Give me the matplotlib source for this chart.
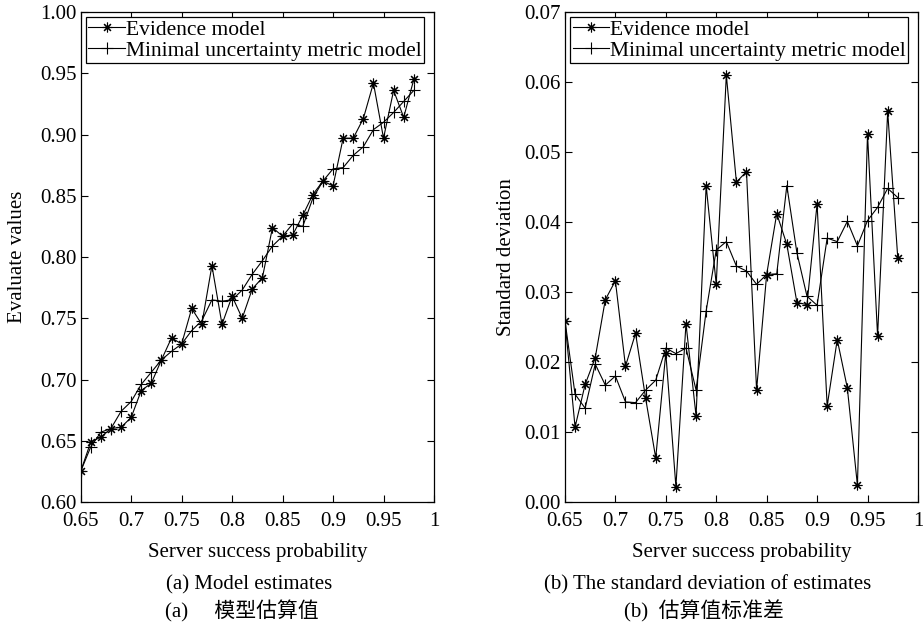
import numpy as np
import matplotlib.pyplot as plt

plt.rcParams['font.family'] = ['Liberation Serif', 'Noto Sans CJK SC', 'DejaVu Sans']

x = np.round(np.arange(0.65, 0.985, 0.01), 2)

# (a) model estimates
est_evidence = [0.625, 0.649, 0.653, 0.660, 0.661, 0.669, 0.691, 0.697, 0.716, 0.734,
                0.729, 0.758, 0.745, 0.793, 0.745, 0.768, 0.750, 0.774, 0.783, 0.824,
                0.817, 0.818, 0.834, 0.851, 0.862, 0.858, 0.897, 0.897, 0.913, 0.942,
                0.897, 0.936, 0.914, 0.945]
est_minimal = [0.625, 0.645, 0.657, 0.660, 0.674, 0.682, 0.696, 0.706, 0.716, 0.723,
               0.729, 0.740, 0.748, 0.765, 0.764, 0.765, 0.773, 0.786, 0.797, 0.809,
               0.817, 0.827, 0.825, 0.848, 0.862, 0.872, 0.873, 0.883, 0.890, 0.904,
               0.910, 0.918, 0.927, 0.936]

# (b) standard deviation of estimates
std_evidence = [0.0259, 0.0107, 0.0168, 0.0206, 0.0289, 0.0316, 0.0194, 0.0241, 0.0148, 0.0063,
                0.0213, 0.0022, 0.0255, 0.0123, 0.0452, 0.0311, 0.0610, 0.0457, 0.0472, 0.0160,
                0.0325, 0.0412, 0.0368, 0.0285, 0.0282, 0.0426, 0.0137, 0.0232, 0.0163, 0.0024,
                0.0526, 0.0237, 0.0558, 0.0349]
std_minimal = [0.0259, 0.0154, 0.0134, 0.0197, 0.0167, 0.0180, 0.0143, 0.0142, 0.0160, 0.0174,
               0.0220, 0.0212, 0.0220, 0.0160, 0.0273, 0.0360, 0.0372, 0.0337, 0.0330, 0.0311,
               0.0325, 0.0326, 0.0452, 0.0356, 0.0294, 0.0281, 0.0377, 0.0372, 0.0401, 0.0366,
               0.0402, 0.0421, 0.0448, 0.0435]

xticks = [0.65, 0.7, 0.75, 0.8, 0.85, 0.9, 0.95, 1]
xticklabels = ['0.65', '0.7', '0.75', '0.8', '0.85', '0.9', '0.95', '1']
labels = ['Evidence model', 'Minimal uncertainty metric model']

FS = 15


def style_axes(ax):
    ax.set_xlim(0.65, 1)
    ax.set_xticks(xticks)
    ax.set_xticklabels(xticklabels)
    ax.tick_params(direction='in', top=True, right=True, length=5, width=0.8,
                   labelsize=FS, pad=3)
    ax.tick_params(axis='x', pad=7)
    for s in ax.spines.values():
        s.set_linewidth(0.9)
    ax.set_xlabel('Server success probability', fontsize=FS, labelpad=9)
    leg = ax.legend(loc='upper left', fontsize=15.5, fancybox=False, framealpha=1,
                    edgecolor='black', handlelength=1.7, handletextpad=0.05,
                    borderpad=0.1, labelspacing=0.05, borderaxespad=0.25)
    leg.get_frame().set_linewidth(0.9)


def main():
    fig = plt.figure(figsize=(9.23, 6.23), dpi=100)
    ax1 = fig.add_axes([0.0874, 0.1942, 0.3828, 0.7865])
    ax2 = fig.add_axes([0.6121, 0.1942, 0.3824, 0.7865])

    ast = (8, 2, 0)
    ax1.plot(x, est_evidence, color='black', lw=0.8, marker=ast, ms=7, mew=0.8, label=labels[0])
    ax1.plot(x, est_minimal, color='black', lw=0.8, marker='+', ms=9, mew=0.8, label=labels[1])
    ax1.set_ylim(0.60, 1.00)
    ax1.set_yticks(np.arange(0.60, 1.001, 0.05))
    ax1.set_yticklabels([f'{v:.2f}' for v in np.arange(0.60, 1.001, 0.05)])
    ax1.set_ylabel('Evaluate values', fontsize=FS, labelpad=9)
    style_axes(ax1)

    ax2.plot(x, std_evidence, color='black', lw=0.8, marker=ast, ms=7, mew=0.8, label=labels[0])
    ax2.plot(x, std_minimal, color='black', lw=0.8, marker='+', ms=9, mew=0.8, label=labels[1])
    ax2.set_ylim(0, 0.07)
    ax2.set_yticks(np.arange(0, 0.0701, 0.01))
    ax2.set_yticklabels([f'{v:.2f}' for v in np.arange(0, 0.0701, 0.01)])
    ax2.set_ylabel('Standard deviation', fontsize=FS, labelpad=6)
    style_axes(ax2)

    fig.text(249 / 923, 1 - 585 / 623, '(a) Model estimates', ha='center', va='center', fontsize=FS)
    fig.text(242 / 923, 1 - 611 / 623, '(a)     模型估算值', ha='center', va='center', fontsize=FS)
    fig.text(708 / 923, 1 - 585 / 623, '(b) The standard deviation of estimates',
             ha='center', va='center', fontsize=FS)
    fig.text(704 / 923, 1 - 611 / 623, '(b)  估算值标准差', ha='center', va='center', fontsize=FS)

    plt.savefig('out.png', dpi=100)
    plt.close()


if __name__ == '__main__':
    main()
